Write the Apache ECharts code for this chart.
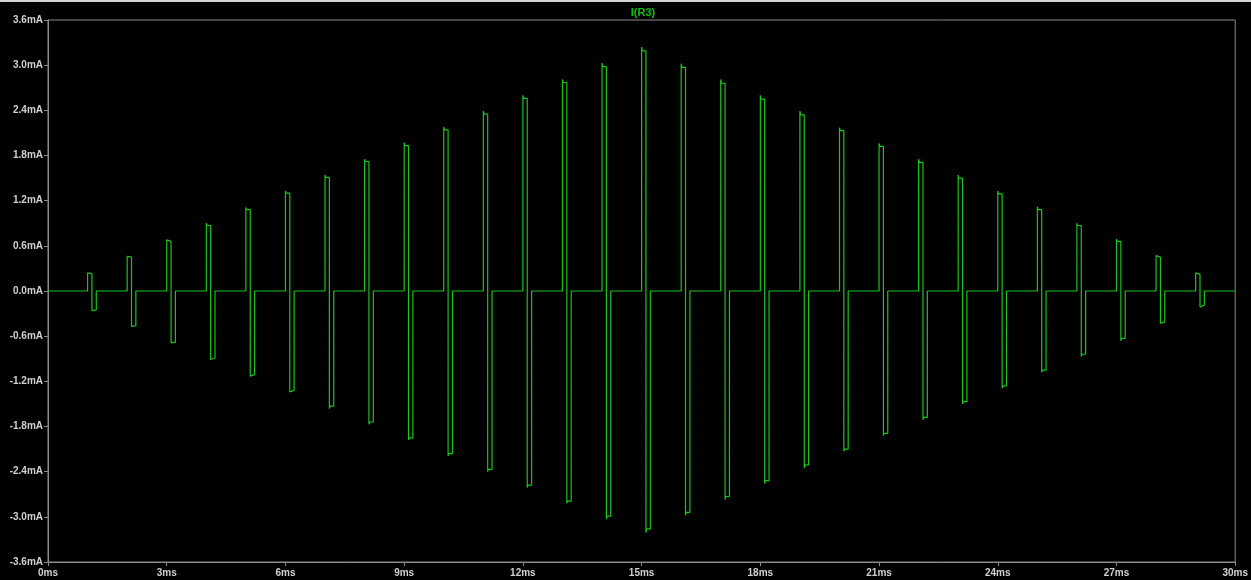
<!DOCTYPE html>
<html>
<head>
<meta charset="utf-8">
<script src="https://cdn.jsdelivr.net/npm/echarts@6/dist/echarts.min.js"></script>
<style>
html,body{margin:0;padding:0;background:#000;}
#chart{width:1251px;height:580px;}
</style>
</head>
<body>
<div id="chart"></div>
<script>
// Pulse start times (ms)
const pulseTimes = [1,2,3,4,5,6,7,8,9,10,11,12,13,14,15,16,17,18,19,20,21,22,23,24,25,26,27,28,29];
// Positive lobe: initial spike and settled value (mA)
const posPeak   = [0.24,0.46,0.68,0.90,1.11,1.33,1.54,1.75,1.97,2.18,2.39,2.60,2.81,3.03,3.24,3.02,2.81,2.60,2.39,2.17,1.96,1.75,1.54,1.33,1.12,0.90,0.69,0.47,0.24];
const posSettle = [0.23,0.45,0.66,0.87,1.08,1.30,1.51,1.72,1.93,2.14,2.35,2.56,2.77,2.98,3.19,2.97,2.76,2.55,2.34,2.13,1.92,1.71,1.50,1.29,1.08,0.87,0.66,0.45,0.22];
// Negative lobe: initial spike and settled value (mA)
const negPeak   = [-0.26,-0.47,-0.69,-0.91,-1.13,-1.34,-1.56,-1.77,-1.98,-2.19,-2.40,-2.61,-2.82,-3.03,-3.21,-2.98,-2.77,-2.56,-2.35,-2.13,-1.92,-1.71,-1.50,-1.29,-1.08,-0.87,-0.66,-0.43,-0.21];
const negSettle = [-0.25,-0.46,-0.68,-0.89,-1.11,-1.32,-1.53,-1.74,-1.95,-2.16,-2.37,-2.58,-2.79,-2.99,-3.16,-2.94,-2.73,-2.52,-2.31,-2.10,-1.89,-1.68,-1.47,-1.26,-1.05,-0.84,-0.63,-0.41,-0.19];
// Pulse timing (ms)
const settleTime = 0.02;
const posWidth = 0.11;
const negWidth = 0.11;
const tStart = 0, tEnd = 30;
// Tick labels
const yTicks = [-3.6,-3.0,-2.4,-1.8,-1.2,-0.6,0.0,0.6,1.2,1.8,2.4,3.0,3.6];
const xTicks = [0,3,6,9,12,15,18,21,24,27,30];
const seriesName = 'I(R3)';

const pts = [[tStart,0]];
pulseTimes.forEach((t,i)=>{
  pts.push([t,0]);
  pts.push([t,posPeak[i]]);
  pts.push([t+settleTime,posSettle[i]]);
  pts.push([t+posWidth,posSettle[i]]);
  pts.push([t+posWidth,negPeak[i]]);
  pts.push([t+posWidth+settleTime,negSettle[i]]);
  pts.push([t+posWidth+negWidth,negSettle[i]]);
  pts.push([t+posWidth+negWidth,0]);
});
pts.push([tEnd,0]);

const chart = echarts.init(document.getElementById('chart'), null, {renderer:'canvas'});
const gray = '#8a8a8a';
const labelStyle = {color:'#d0d0d0', fontFamily:'Arial, "Liberation Sans", sans-serif', fontSize:10, fontWeight:'bold'};
chart.setOption({
  backgroundColor:'#000',
  animation:false,
  grid:{left:48, right:13, top:20, bottom:18, show:true, borderColor:gray, borderWidth:1, backgroundColor:'#000'},
  graphic:[
    {type:'rect', shape:{x:0,y:0,width:1251,height:2}, style:{fill:'#d6d6d6'}},
    {type:'text', x:643, y:13, style:{text:seriesName, fill:'#10c010', font:'bold 11px Arial, "Liberation Sans", sans-serif', textAlign:'center', textVerticalAlign:'middle'}}
  ],
  xAxis:{
    type:'value', min:xTicks[0], max:xTicks[xTicks.length-1], interval:3,
    axisLine:{show:true, onZero:false, lineStyle:{color:gray}},
    axisTick:{show:true, length:4, lineStyle:{color:gray}},
    splitLine:{show:false},
    axisLabel:Object.assign({margin:6, formatter:v=>v+'ms'}, labelStyle)
  },
  yAxis:{
    type:'value', min:yTicks[0], max:yTicks[yTicks.length-1], interval:0.6,
    axisLine:{show:true, onZero:false, lineStyle:{color:gray}},
    axisTick:{show:true, length:4, lineStyle:{color:gray}},
    splitLine:{show:false},
    axisLabel:Object.assign({margin:5, formatter:v=>v.toFixed(1)+'mA'}, labelStyle)
  },
  series:[{
    name:seriesName, type:'line', data:pts, showSymbol:false, symbol:'none',
    lineStyle:{color:'#1ac41a', width:1.2}, silent:true
  }]
});
</script>
</body>
</html>
